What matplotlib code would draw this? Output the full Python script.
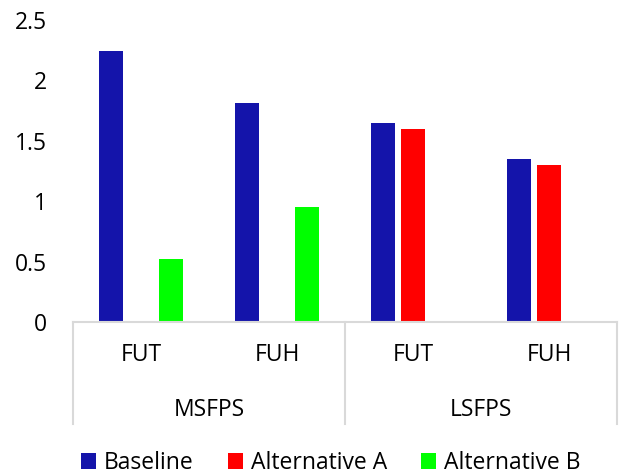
import numpy as np
import matplotlib
matplotlib.use("Agg")
import matplotlib.pyplot as plt
from matplotlib.transforms import blended_transform_factory
from matplotlib.patches import Patch

plt.rcParams['font.family'] = ['Open Sans', 'DejaVu Sans']

categories = ["FUT", "FUH", "FUT", "FUH"]
groups = ["MSFPS", "LSFPS"]
series_names = ["Baseline", "Alternative A", "Alternative B"]
baseline = [2.24, 1.81, 1.65, 1.35]
alternative_a = [np.nan, np.nan, 1.60, 1.30]
alternative_b = [0.52, 0.95, np.nan, np.nan]
colors = ["#1414AA", "#FF0000", "#00FF00"]
yticks = [0, 0.5, 1, 1.5, 2, 2.5]
ytick_labels = ["0", "0.5", "1", "1.5", "2", "2.5"]

FS = 16.5

fig = plt.figure(figsize=(6.22, 4.76), dpi=100)
ax = fig.add_axes([73 / 622, 1 - 322 / 476, 544 / 622, 302 / 476])

x = np.arange(len(categories))
width = 0.175
offsets = [-0.22, 0.0, 0.22]
for vals, off, col in zip([baseline, alternative_a, alternative_b], offsets, colors):
    v = np.array(vals, dtype=float)
    m = ~np.isnan(v)
    ax.bar(x[m] + off, v[m], width=width, color=col, edgecolor="none")

ax.set_xlim(-0.5, len(categories) - 0.5)
ax.set_ylim(0, 2.5)
ax.set_yticks(yticks)
ax.set_yticklabels(ytick_labels, fontsize=FS)
ax.tick_params(axis="y", length=0, pad=19)
ax.set_xticks([])
for s in ["left", "right", "top"]:
    ax.spines[s].set_visible(False)
ax.spines["bottom"].set_color("#D9D9D9")
ax.spines["bottom"].set_linewidth(1.5)

# Two-level category axis
trans = blended_transform_factory(ax.transData, ax.transAxes)
axis_h = 302
for sx in [-0.5, 1.5, 3.5]:
    ax.plot([sx, sx], [0, -102 / axis_h], transform=trans, color="#D9D9D9",
            lw=1.5, clip_on=False)
for xi, lab in zip(x, categories):
    ax.text(xi, -33 / axis_h, lab, transform=trans, ha="center", va="center",
            fontsize=FS)
for gi, g in enumerate(groups):
    ax.text(gi * 2 + 0.5, -88 / axis_h, g, transform=trans, ha="center",
            va="center", fontsize=FS)

handles = [Patch(facecolor=c, edgecolor="none") for c in colors]
fig.legend(handles, series_names, loc="center", bbox_to_anchor=(0.532, 1 - 463 / 476),
           ncol=3, frameon=False, fontsize=FS, handlelength=0.65, handleheight=0.65,
           handletextpad=0.35, columnspacing=1.5, borderpad=0)

fig.savefig("out.png", dpi=100)
